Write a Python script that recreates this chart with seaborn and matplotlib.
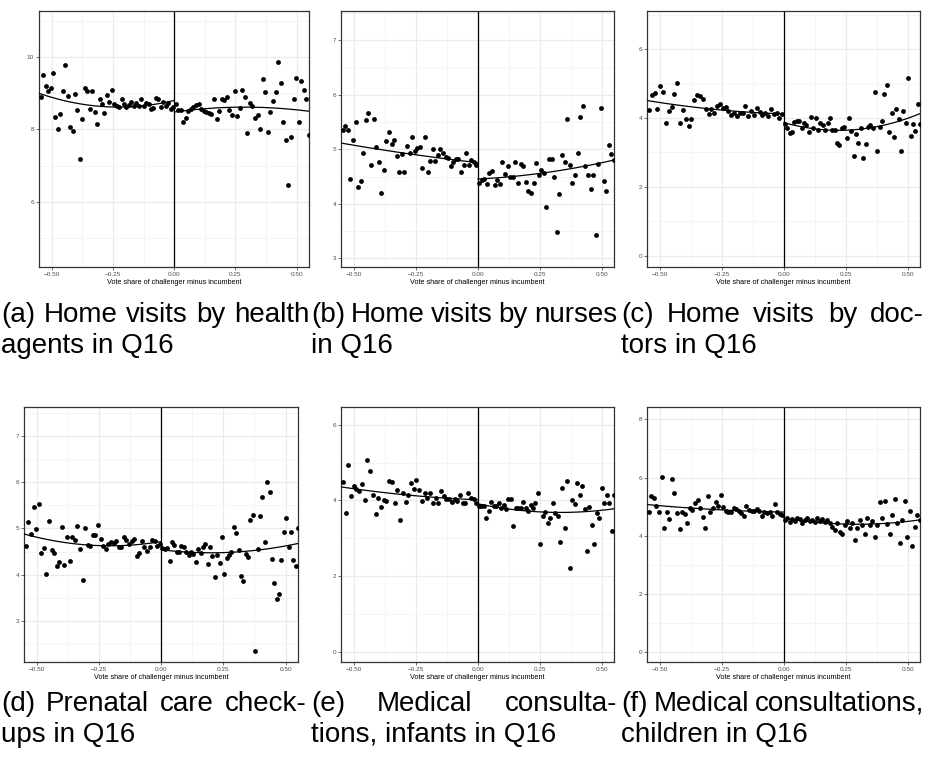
import numpy as np
import pandas as pd
import matplotlib
matplotlib.use("Agg")
import matplotlib.pyplot as plt
import seaborn as sns

# Binned means (vote share of challenger minus incumbent), left and right of the cutoff
a_left = [8.90, 9.50, 9.19, 9.06, 9.15, 9.56, 8.34, 8.00, 8.42, 9.06,
          9.77, 8.91, 8.07, 7.96, 8.98, 8.54, 7.19, 8.28, 9.15, 9.05,
          8.56, 9.07, 8.49, 8.14, 8.85, 8.69, 8.45, 8.95, 8.75, 9.10,
          8.69, 8.64, 8.61, 8.85, 8.69, 8.62, 8.68, 8.75, 8.66, 8.72,
          8.64, 8.83, 8.66, 8.73, 8.69, 8.55, 8.60, 8.87, 8.84, 8.62,
          8.75, 8.64, 8.72, 8.55, 8.61]
a_right = [8.69, 8.54, 8.54, 8.20, 8.32, 8.50, 8.56, 8.61, 8.67, 8.70,
           8.55, 8.50, 8.47, 8.44, 8.42, 8.83, 8.29, 8.50, 8.85, 8.81,
           8.90, 8.54, 8.39, 9.06, 8.37, 8.59, 9.08, 8.90, 7.89, 8.72,
           8.65, 8.32, 8.39, 8.02, 9.39, 9.03, 7.92, 8.49, 8.79, 9.02,
           9.87, 9.28, 8.20, 7.70, 6.47, 7.80, 8.85, 9.43, 8.20, 9.33,
           9.09, 8.83, 7.84]

b_left = [5.35, 5.42, 5.35, 4.46, 5.18, 5.50, 4.31, 4.41, 4.93, 5.53,
          5.67, 4.71, 5.56, 5.04, 4.76, 4.20, 4.63, 5.16, 5.32, 5.10,
          5.17, 4.88, 4.59, 4.91, 4.58, 5.07, 4.94, 5.23, 4.97, 5.03,
          5.04, 4.66, 5.22, 4.59, 4.79, 5.00, 4.79, 4.90, 5.00, 4.93,
          4.86, 4.85, 4.69, 4.76, 4.83, 4.82, 4.58, 4.72, 4.93, 4.71,
          4.80, 4.76, 4.71]
b_right = [4.38, 4.43, 4.46, 4.37, 4.57, 4.61, 4.35, 4.43, 4.36, 4.77,
           4.55, 4.69, 4.50, 4.50, 4.77, 4.38, 4.73, 4.69, 4.40, 4.23,
           4.19, 4.39, 4.75, 4.52, 4.62, 4.56, 3.95, 4.82, 4.83, 4.49,
           3.48, 4.18, 4.90, 4.76, 5.56, 4.71, 4.38, 4.52, 4.93, 5.60,
           5.80, 4.69, 4.52, 4.28, 4.52, 3.43, 4.74, 5.76, 4.42, 4.23,
           5.08, 4.91, 4.81]

c_left = [4.22, 4.68, 4.73, 4.25, 4.92, 4.76, 3.86, 4.21, 4.32, 4.69,
          5.02, 3.86, 4.22, 3.96, 3.77, 3.96, 4.53, 4.68, 4.64, 4.55,
          4.26, 4.11, 4.26, 4.16, 4.34, 4.40, 4.30, 4.32, 4.19, 4.10,
          4.16, 4.05, 4.15, 4.16, 4.36, 4.06, 4.21, 4.10, 4.30, 4.18,
          4.09, 4.16, 4.06, 4.25, 4.11, 4.16, 4.01, 4.12]
c_right = [3.82, 3.71, 3.55, 3.59, 3.87, 3.90, 3.91, 3.70, 3.86, 3.81,
           3.60, 4.03, 3.70, 3.99, 3.65, 3.86, 3.81, 3.66, 3.85, 4.01,
           3.64, 3.64, 3.27, 3.22, 3.71, 3.73, 3.41, 3.99, 3.61, 2.91,
           3.53, 3.26, 3.71, 2.83, 3.25, 3.75, 3.79, 3.72, 4.77, 3.05,
           3.73, 3.90, 4.70, 4.97, 3.58, 4.15, 3.46, 4.25, 3.98, 3.03,
           4.20, 3.85, 5.16, 3.47, 3.84, 3.61, 4.40, 3.84]

d_left = [4.63, 5.15, 4.88, 5.47, 4.99, 5.53, 4.47, 4.58, 4.01, 5.17,
          4.53, 4.47, 4.19, 4.27, 5.04, 4.22, 4.81, 4.30, 4.82, 4.75,
          5.06, 4.55, 3.88, 5.00, 4.64, 4.63, 4.85, 4.85, 5.08, 4.78,
          4.62, 4.55, 4.67, 4.71, 4.69, 4.73, 4.60, 4.59, 4.81, 4.76,
          4.66, 4.73, 4.78, 4.40, 4.47, 4.73, 4.61, 4.51, 4.60, 4.75,
          4.73, 4.63, 4.66]
d_right = [4.57, 4.56, 4.57, 4.29, 4.70, 4.64, 4.49, 4.49, 4.63, 4.61,
           4.50, 4.43, 4.49, 4.44, 4.27, 4.55, 4.47, 4.60, 4.66, 4.24,
           4.59, 4.40, 3.96, 4.42, 4.25, 4.81, 4.02, 4.36, 4.42, 4.49,
           5.04, 4.91, 4.53, 3.98, 3.86, 4.45, 4.38, 5.19, 5.30, 2.35,
           4.56, 5.26, 5.67, 4.70, 6.00, 5.78, 4.35, 3.82, 3.47, 3.58,
           4.32, 4.92, 5.23, 4.61, 4.92, 4.31, 4.19, 5.01]

e_left = [4.50, 3.67, 4.94, 4.13, 4.39, 4.29, 4.25, 4.44, 4.00, 5.07,
          4.78, 4.14, 3.65, 4.07, 3.83, 4.00, 3.98, 4.52, 4.48, 3.94,
          4.27, 3.48, 4.19, 3.95, 4.15, 4.46, 4.31, 4.53, 4.28, 3.98,
          4.20, 4.07, 4.19, 3.94, 4.06, 3.94, 4.26, 4.13, 4.03, 4.03,
          3.97, 4.05, 3.98, 4.14, 3.93, 3.94, 4.19, 4.06, 4.03, 3.92]
e_right = [3.86, 3.86, 3.86, 3.53, 3.71, 3.96, 3.86, 3.86, 3.94, 3.80,
           3.87, 3.78, 4.03, 4.03, 3.32, 3.79, 3.80, 3.81, 3.96, 3.80,
           3.73, 3.89, 3.80, 3.93, 4.19, 2.85, 3.58, 3.70, 3.40, 3.54,
           3.94, 3.66, 3.59, 2.90, 4.32, 3.26, 4.51, 2.21, 4.00, 3.90,
           4.46, 4.14, 4.38, 3.77, 2.66, 3.82, 3.34, 2.86, 3.66, 3.53,
           4.33, 3.92, 4.14, 3.92, 3.20, 4.14]

f_left = [4.82, 5.37, 5.30, 5.03, 4.82, 6.03, 4.28, 4.82, 4.57, 5.94,
          5.47, 4.77, 4.23, 4.82, 4.76, 4.45, 4.95, 4.90, 5.13, 5.24,
          4.95, 4.63, 4.25, 5.35, 4.82, 4.95, 5.16, 5.03, 5.41, 4.98,
          4.84, 4.83, 4.80, 4.95, 4.93, 4.85, 4.78, 4.68, 5.03, 4.88,
          4.84, 4.84, 4.91, 4.85, 4.69, 4.82, 4.78, 4.82, 4.67, 5.09,
          4.80, 4.74, 4.71]
f_right = [4.55, 4.62, 4.48, 4.58, 4.52, 4.60, 4.57, 4.45, 4.55, 4.62,
           4.50, 4.55, 4.48, 4.60, 4.52, 4.58, 4.47, 4.55, 4.43, 4.30,
           4.20, 4.42, 4.12, 4.05, 4.38, 4.50, 4.28, 4.45, 3.85, 4.25,
           4.55, 4.35, 4.05, 4.62, 4.38, 4.50, 3.95, 4.35, 5.15, 4.60,
           5.20, 4.40, 4.05, 4.70, 5.25, 4.45, 3.75, 4.55, 5.20, 3.95,
           4.85, 3.65, 4.30, 4.70, 4.55]

x_ticks = [-0.50, -0.25, 0.00, 0.25, 0.50]
x_label = "Vote share of challenger minus incumbent"

captions = {
    "a": ["(a) Home visits by health", "agents in Q16"],
    "b": ["(b) Home visits by nurses", "in Q16"],
    "c": ["(c) Home visits by doc-", "tors in Q16"],
    "d": ["(d) Prenatal care check-", "ups in Q16"],
    "e": ["(e) Medical consulta-", "tions, infants in Q16"],
    "f": ["(f) Medical consultations,", "children in Q16"],
}

W, H = 927, 759
LEFT_SPAN = (-0.55, 0.0)
RIGHT_SPAN = (0.0, 0.555)

# layout in pixels: axes box (left, right, top, bottom), caption (x0, x1, baseline1, baseline2)
panels = [
    dict(key="a", left=a_left, right=a_right, ylim=(4.2, 11.27), yt=[6, 8, 10], ym=[5, 7, 9, 11],
         box=(39, 309, 11, 267), cap=(1, 309, 322, 353)),
    dict(key="b", left=b_left, right=b_right, ylim=(2.84, 7.54), yt=[3, 4, 5, 6, 7],
         ym=[3.5, 4.5, 5.5, 6.5, 7.5], box=(341, 614, 11, 267), cap=(311, 617, 322, 353)),
    dict(key="c", left=c_left, right=c_right, ylim=(-0.33, 7.11), yt=[0, 2, 4, 6], ym=[1, 3, 5, 7],
         box=(647, 920, 11, 267), cap=(621, 924, 322, 353)),
    dict(key="d", left=d_left, right=d_right, ylim=(2.12, 7.62), yt=[3, 4, 5, 6, 7],
         ym=[2.5, 3.5, 4.5, 5.5, 6.5, 7.5], box=(24, 298, 407, 662), cap=(1, 307, 711, 742)),
    dict(key="e", left=e_left, right=e_right, ylim=(-0.27, 6.47), yt=[0, 2, 4, 6], ym=[1, 3, 5],
         box=(341, 614, 407, 662), cap=(311, 617, 711, 742)),
    dict(key="f", left=f_left, right=f_right, ylim=(-0.35, 8.43), yt=[0, 2, 4, 6, 8], ym=[1, 3, 5, 7],
         box=(647, 920, 407, 662), cap=(621, 924, 711, 742)),
]


def bin_centers(span, n):
    edges = np.linspace(span[0], span[1], n + 1)
    return (edges[:-1] + edges[1:]) / 2


sns.set_theme(style="white")
plt.rcParams["font.family"] = ["Liberation Sans", "DejaVu Sans"]
plt.rcParams["axes.unicode_minus"] = True

fig = plt.figure(figsize=(W / 100, H / 100), dpi=100)
fig.patch.set_facecolor("white")

CAP_FONT = ["Liberation Sans", "DejaVu Sans"]
CAP_SIZE = 20

for p in panels:
    l, r, t, b = p["box"]
    ax = fig.add_axes([l / W, 1 - b / H, (r - l) / W, (b - t) / H])
    ax.set_facecolor("white")

    xl = bin_centers(LEFT_SPAN, len(p["left"]))
    xr = bin_centers(RIGHT_SPAN, len(p["right"]))
    df = pd.DataFrame({
        "x": np.concatenate([xl, xr]),
        "y": np.concatenate([p["left"], p["right"]]),
        "side": ["left"] * len(xl) + ["right"] * len(xr),
    })

    # quadratic fit on each side of the cutoff
    fits = []
    for side, span in (("left", LEFT_SPAN), ("right", (0.0, 0.56))):
        sub = df[df["side"] == side]
        coef = np.polyfit(sub["x"], sub["y"], 2)
        gx = np.linspace(span[0] - (0.01 if side == "left" else 0), span[1], 120)
        fits.append(pd.DataFrame({"x": gx, "y": np.polyval(coef, gx), "side": side}))
    fit_df = pd.concat(fits, ignore_index=True)

    ax.axvline(0, color="black", lw=0.9, zorder=2)
    sns.lineplot(data=fit_df, x="x", y="y", units="side", estimator=None, color="black",
                 lw=0.9, ax=ax, zorder=3, legend=False)
    sns.scatterplot(data=df, x="x", y="y", color="black", s=12, linewidth=0, ax=ax,
                    zorder=4, legend=False)

    ax.set_xlim(-0.552, 0.55)
    ax.set_ylim(*p["ylim"])
    ax.set_xticks(x_ticks)
    ax.set_xticklabels([f"{v:.2f}".replace("-", "\u2212") for v in x_ticks])
    ax.set_xticks([-0.375, -0.125, 0.125, 0.375], minor=True)
    ax.set_yticks(p["yt"])
    ax.set_yticklabels([str(v) for v in p["yt"]])
    ax.set_yticks(p["ym"], minor=True)
    ax.set_axisbelow(True)
    ax.grid(which="major", color="#EBEBEB", lw=0.9)
    ax.grid(which="minor", color="#F2F2F2", lw=0.5)
    ax.tick_params(which="major", length=2, width=0.5, color="#333333", labelsize=4.6,
                   labelcolor="#4D4D4D", pad=1.5, bottom=True, left=True)
    ax.tick_params(which="minor", length=0)
    for s in ax.spines.values():
        s.set_color("#333333")
        s.set_linewidth(0.9)
    ax.set_xlabel(x_label, fontsize=5.2, labelpad=1.5, color="black")
    ax.set_ylabel("")

    # captions: first line justified to the column width, second line left aligned
    x0, x1, b1, b2 = p["cap"]
    line1, line2 = captions[p["key"]]
    renderer = fig.canvas.get_renderer()
    words = line1.split(" ")
    texts = [fig.text(0, 1 - b1 / H, w, fontsize=CAP_SIZE, family=CAP_FONT, va="baseline",
                      ha="left", color="black") for w in words]
    widths = [tx.get_window_extent(renderer).width for tx in texts]
    gap = (x1 - x0 - sum(widths)) / (len(words) - 1)
    xpos = x0
    for tx, wd in zip(texts, widths):
        tx.set_x(xpos / W)
        xpos += wd + gap
    fig.text(x0 / W, 1 - b2 / H, line2, fontsize=CAP_SIZE, family=CAP_FONT, va="baseline",
             ha="left", color="black")

fig.savefig("out.png", dpi=100, facecolor="white")
